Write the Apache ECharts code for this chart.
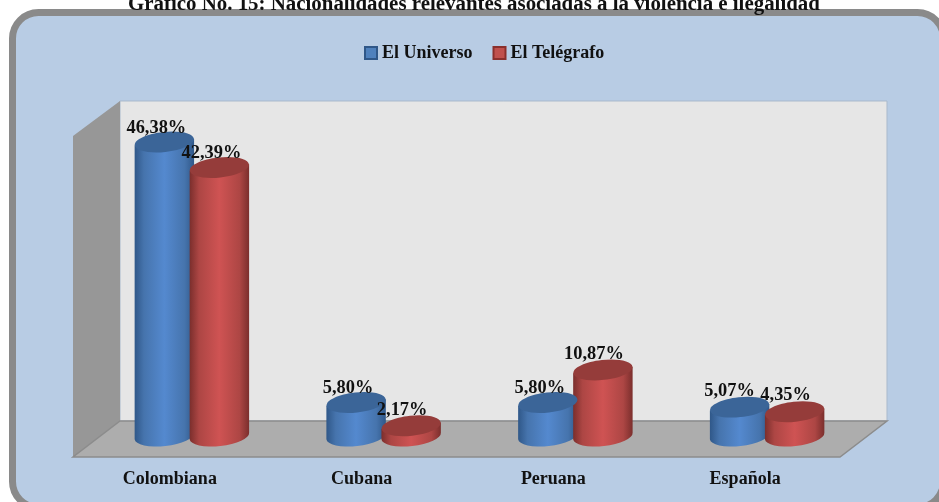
<!DOCTYPE html>
<html>
<head>
<meta charset="utf-8">
<style>html,body{margin:0;padding:0;background:#fff}#c{width:939px;height:502px}</style>
<script src="https://cdn.jsdelivr.net/npm/echarts@6/dist/echarts.min.js"></script>
</head>
<body>
<div id="c"></div>
<script>
const titleText = 'Gráfico No. 15: Nacionalidades relevantes asociadas a la violencia e ilegalidad';
const categories = ['Colombiana', 'Cubana', 'Peruana', 'Española'];
const elUniverso = [46.38, 5.80, 5.80, 5.07];
const elTelegrafo = [42.39, 2.17, 10.87, 4.35];

const FONT = '"Liberation Serif","Times New Roman",serif';
const fmt = v => v.toFixed(2).replace('.', ',') + '%';

function cylinder(side, palette, nudge) {
  return function (params, api) {
    const i = api.value(0), v = api.value(1);
    const band = api.size([1, 0])[0];
    const p = api.coord([i, v]), b = api.coord([i, 0]);
    const cx = p[0] + side * band * 0.1435;
    const rx = band * 0.155, ry = 10;
    const tilt = 0.11;
    const dy = rx * tilt;
    const baseY = b[1] - 3.7;
    const body = [
      'M', cx - rx, p[1] + dy, 'L', cx - rx, baseY + dy,
      'A', rx, ry, -tilt * 180 / Math.PI, 0, 0, cx + rx, baseY - dy,
      'L', cx + rx, p[1] - dy, 'Z'
    ].join(' ');
    const grad = new echarts.graphic.LinearGradient(0, 0, 1, 0, [
      { offset: 0, color: palette.edge },
      { offset: 0.16, color: palette.mid },
      { offset: 0.5, color: palette.light },
      { offset: 0.84, color: palette.mid },
      { offset: 1, color: palette.edge }
    ]);
    return {
      type: 'group',
      children: [
        { type: 'path', shape: { pathData: body }, style: { fill: grad } },
        { type: 'ellipse', shape: { cx: 0, cy: 0, rx: rx, ry: ry }, x: cx, y: p[1],
          rotation: tilt, style: { fill: palette.top }, z2: 2 },
        { type: 'text', x: cx + nudge[i][0], y: p[1] + nudge[i][1], z2: 10,
          style: { text: fmt(v), font: 'bold 18.4px ' + FONT, fill: '#111', align: 'center', verticalAlign: 'middle' } }
      ]
    };
  };
}

const blue = { edge: '#2f5788', mid: '#4674ad', light: '#5489cf', top: '#3b6598' };
const red = { edge: '#7a2e2c', mid: '#ad4644', light: '#cf5353', top: '#953c3a' };

const chart = echarts.init(document.getElementById('c'), null, { renderer: 'canvas' });
chart.setOption({
  animation: false,
  backgroundColor: '#ffffff',
  title: {
    text: titleText, left: 123, top: -11,
    textStyle: { fontFamily: FONT, fontWeight: 'bold', fontSize: 20.9, color: '#111' }
  },
  legend: {
    top: 39, left: 359, icon: 'rect', itemWidth: 12, itemHeight: 12, itemGap: 20,
    textStyle: { fontFamily: FONT, fontWeight: 'bold', fontSize: 18, color: '#111' },
    data: ['El Universo', 'El Telégrafo']
  },
  grid: { left: 96, width: 767, top: 118.7, height: 321 },
  xAxis: {
    type: 'category', data: categories,
    axisLine: { show: false }, axisTick: { show: false }, splitLine: { show: false },
    axisLabel: {
      margin: 31, padding: [0, 44, 0, 0], interval: 0,
      fontFamily: FONT, fontWeight: 'bold', fontSize: 18, color: '#111'
    }
  },
  yAxis: { type: 'value', min: 0, max: 50, show: false },
  graphic: { elements: [
    { type: 'rect', z: -10, shape: { x: 12.5, y: 12.5, width: 931, height: 495, r: 26 },
      style: { fill: '#b8cce4', stroke: '#8a8a8a', lineWidth: 7 } },
    { type: 'polygon', z: -9, shape: { points: [[120, 101], [887, 101], [887, 421], [120, 421]] },
      style: { fill: '#e6e6e6', stroke: '#a9b9cc', lineWidth: 1 } },
    { type: 'polygon', z: -8, shape: { points: [[73, 136], [120, 101], [120, 421], [73, 457]] },
      style: { fill: '#979797' } },
    { type: 'polygon', z: -7, shape: { points: [[120, 421], [887, 421], [840, 457], [73, 457]] },
      style: { fill: '#adadad', stroke: '#8c8c8c', lineWidth: 1.5 } }
  ] },
  series: [
    { name: 'El Universo', type: 'custom', coordinateSystem: 'cartesian2d',
      itemStyle: { color: '#4f81bd', borderColor: '#2f5788', borderWidth: 2 },
      renderItem: cylinder(-1, blue, [[-8, -14], [-8, -14.5], [-8, -14.5], [-10, -16]]), encode: { x: 0, y: 1 },
      data: elUniverso.map((v, i) => [i, v]) },
    { name: 'El Telégrafo', type: 'custom', coordinateSystem: 'cartesian2d',
      itemStyle: { color: '#c0504d', borderColor: '#8a2f2c', borderWidth: 2 },
      renderItem: cylinder(1, red, [[-8, -14], [-9, -16], [-9, -16], [-9, -17]]), encode: { x: 0, y: 1 },
      data: elTelegrafo.map((v, i) => [i, v]) }
  ]
});
</script>
</body>
</html>
